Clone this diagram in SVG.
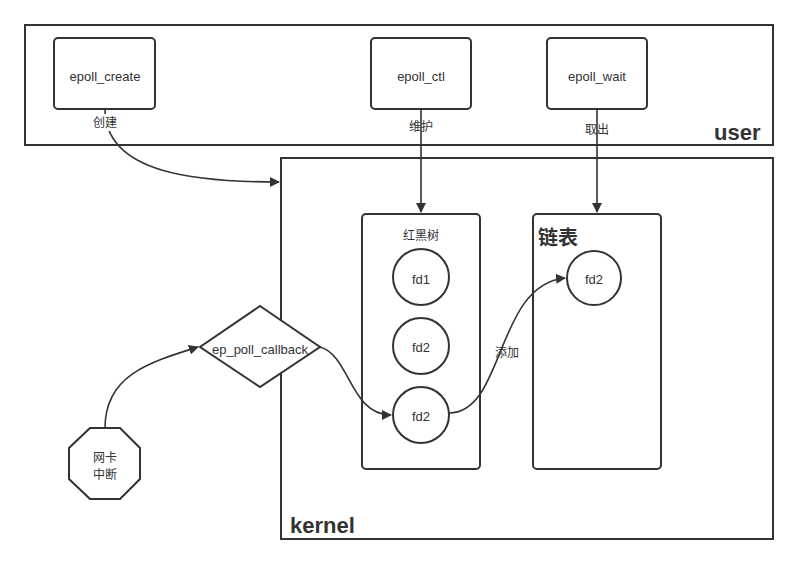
<svg xmlns="http://www.w3.org/2000/svg" width="798" height="564" viewBox="0 0 798 564">
<defs>
<style>
.box{fill:#fff;stroke:#333;stroke-width:2}
.n{fill:#fff;stroke:#333;stroke-width:2}
.c{fill:none;stroke:#333;stroke-width:1.6}
text{font-family:"Liberation Sans","Noto Sans CJK SC",sans-serif;fill:#333;font-size:12px;text-anchor:middle}
.t{font-size:13px}
.big{font-size:22px;font-weight:bold;text-anchor:start}
</style>
<marker id="ah2" viewBox="0 0 10 10" refX="9" refY="5" markerWidth="10" markerHeight="10" orient="auto" markerUnits="userSpaceOnUse">
<path d="M0,0 L10,5 L0,10 z" fill="#333"/>
</marker>
</defs>
<rect width="798" height="564" fill="#fff"/>
<g id="user">
<rect class="box" x="25" y="25" width="748" height="120"/>
<text class="big" x="714" y="140">user</text>
</g>
<g id="kernel">
<rect class="box" x="281" y="158" width="492" height="381"/>
<text class="big" x="290" y="533">kernel</text>
</g>
<g id="epoll_create">
<rect class="n" x="54" y="38" width="101" height="71" rx="4"/>
<text class="t" x="105" y="81">epoll_create</text>
</g>
<g id="epoll_ctl">
<rect class="n" x="371" y="38" width="100" height="71" rx="4"/>
<text class="t" x="421" y="81">epoll_ctl</text>
</g>
<g id="epoll_wait">
<rect class="n" x="547" y="38" width="100" height="71" rx="4"/>
<text class="t" x="597" y="81">epoll_wait</text>
</g>
<g id="rbtree">
<rect class="n" x="362" y="214" width="118" height="255" rx="4"/>
<text x="421" y="240">红黑树</text>
</g>
<g id="list">
<rect class="n" x="533" y="214" width="128" height="255" rx="4"/>
<text class="big" x="538" y="245" style="font-size:20px">链表</text>
</g>
<g id="connectors">
<path class="c" d="M105,109 C105,175 200,182 279,182" marker-end="url(#ah2)"/>
<path class="c" d="M421,109 L421,212" marker-end="url(#ah2)"/>
<path class="c" d="M597,109 L597,212" marker-end="url(#ah2)"/>
<path class="c" d="M105,428 C105,375 150,362 198,347" marker-end="url(#ah2)"/>
<path class="c" d="M320,347 C350,355 350,415 391,415" marker-end="url(#ah2)"/>
<path class="c" d="M449,413 C505,413 495,285 565,278" marker-end="url(#ah2)"/>
</g>
<g id="labels">
<rect x="92" y="114" width="26" height="17" fill="#fff"/>
<text x="105" y="127">创建</text>
<text x="421" y="131">维护</text>
<text x="597" y="134">取出</text>
<text x="507" y="357">添加</text>
</g>
<g id="fd1">
<circle class="n" cx="421" cy="277" r="28"/>
<text class="t" x="421" y="284">fd1</text>
</g>
<g id="fd2a">
<circle class="n" cx="421" cy="346" r="28"/>
<text class="t" x="421" y="352">fd2</text>
</g>
<g id="fd2b">
<circle class="n" cx="421" cy="415" r="28"/>
<text class="t" x="421" y="421">fd2</text>
</g>
<g id="fd2c">
<circle class="n" cx="594" cy="278" r="27"/>
<text class="t" x="594" y="284">fd2</text>
</g>
<g id="callback">
<polygon class="n" points="260,306 320,347 260,387 200,347"/>
<text class="t" x="260" y="354">ep_poll_callback</text>
</g>
<g id="nic">
<polygon class="n" points="90,428 120,428 140,448 140,479 120,499 90,499 69,479 69,448"/>
<text x="105" y="462">网卡</text>
<text x="105" y="479">中断</text>
</g>
</svg>
